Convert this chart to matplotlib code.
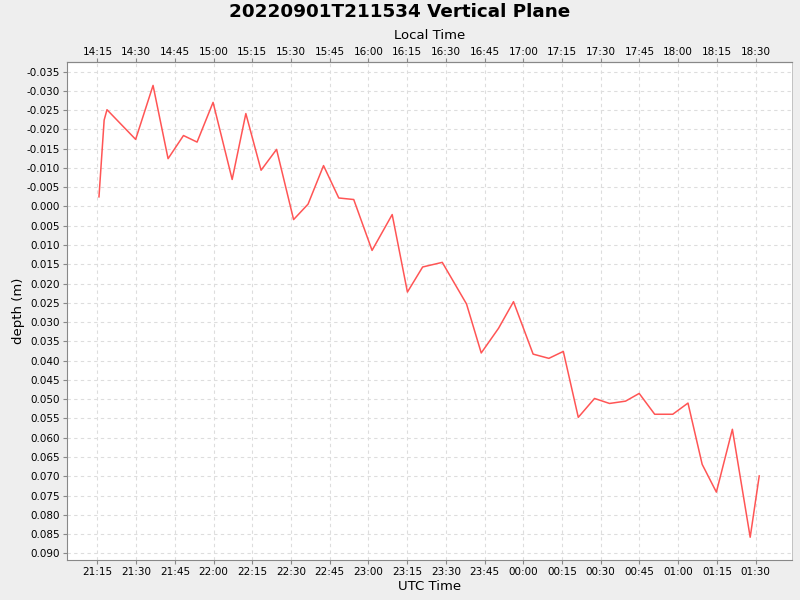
import matplotlib
matplotlib.use("Agg")
import matplotlib.pyplot as plt
import matplotlib.dates as mdates
from datetime import datetime, timedelta

# UTC sample times (HH:MM:SS) and depth in metres
times = [
    "21:15:36", "21:17:36", "21:18:42", "21:29:48", "21:36:33", "21:42:22",
    "21:48:20", "21:53:36", "21:59:48", "22:07:12", "22:12:30", "22:18:24",
    "22:24:24", "22:31:00", "22:36:36", "22:42:36", "22:48:30", "22:54:18",
    "23:01:24", "23:09:12", "23:15:06", "23:21:00", "23:28:36", "23:38:00",
    "23:43:42", "23:50:24", "23:56:12", "00:03:48", "00:09:54", "00:15:30",
    "00:21:18", "00:27:36", "00:33:24", "00:39:36", "00:44:54", "00:50:54",
    "00:57:54", "01:03:48", "01:09:18", "01:14:48", "01:21:00", "01:27:54",
    "01:31:24",
]
depth = [
    -0.0025, -0.0224, -0.0251, -0.0174, -0.0314, -0.0124,
    -0.0184, -0.0167, -0.0270, -0.0070, -0.0241, -0.0094,
    -0.0148, 0.0034, -0.0006, -0.0106, -0.0022, -0.0018,
    0.0114, 0.0021, 0.0222, 0.0157, 0.0145, 0.0253,
    0.0380, 0.0316, 0.0247, 0.0383, 0.0394, 0.0376,
    0.0547, 0.0498, 0.0511, 0.0505, 0.0485, 0.0539,
    0.0539, 0.0510, 0.0669, 0.0741, 0.0578, 0.0858,
    0.0699,
]
utc_offset_hours = -7

day0 = datetime(2022, 9, 1)
stamps = []
for t in times:
    d = datetime.strptime(t, "%H:%M:%S")
    dt = day0.replace(hour=d.hour, minute=d.minute, second=d.second)
    if d.hour < 12:
        dt += timedelta(days=1)
    stamps.append(dt)

bg = "#eeeeee"
fig = plt.figure(figsize=(8, 6), dpi=100, facecolor=bg)
ax = fig.add_axes([0.0834, 0.0667, 0.9066, 0.8295])
ax.set_facecolor("white")

ax.plot(stamps, depth, color="#ff5555", lw=1.1)

ax.set_xlim(datetime(2022, 9, 1, 21, 3, 6), datetime(2022, 9, 2, 1, 44, 6))
ax.set_ylim(0.0917, -0.0374)
ax.set_yticks([i * 0.005 for i in range(-7, 19)])
ax.yaxis.set_major_formatter(plt.FuncFormatter(lambda v, p: "%.3f" % (0 if abs(v) < 1e-9 else v)))

ax.xaxis.set_major_locator(mdates.MinuteLocator(byminute=[0, 15, 30, 45]))
ax.xaxis.set_major_formatter(mdates.DateFormatter("%H:%M"))

off = utc_offset_hours / 24.0
top = ax.secondary_xaxis("top", functions=(lambda x: x + off, lambda x: x - off))
top.xaxis.set_major_locator(mdates.MinuteLocator(byminute=[0, 15, 30, 45]))
top.xaxis.set_major_formatter(mdates.DateFormatter("%H:%M"))
top.set_xlabel("Local Time", fontsize=9.5, labelpad=6)
top.tick_params(axis="x", labelsize=7.5, length=3, width=0.8, color="#888888", pad=0.5)
top.spines["top"].set_color("#888888")

ax.grid(True, color="#dddddd", linestyle=(0, (3, 3)), linewidth=0.8)
for s in ["left", "bottom", "top"]:
    ax.spines[s].set_color("#888888")
ax.spines["right"].set_color("#bbbbbb")
ax.spines["right"].set_linewidth(0.6)
ax.tick_params(labelsize=7.5, length=3, width=0.8, color="#888888", pad=2)

ax.set_xlabel("UTC Time", fontsize=9.5, labelpad=2)
ax.set_ylabel("depth (m)", fontsize=9.5, labelpad=1)

fig.suptitle("20220901T211534 Vertical Plane", fontsize=13.2, fontweight="bold", y=0.995)

fig.savefig("out.png", dpi=100, facecolor=bg)
